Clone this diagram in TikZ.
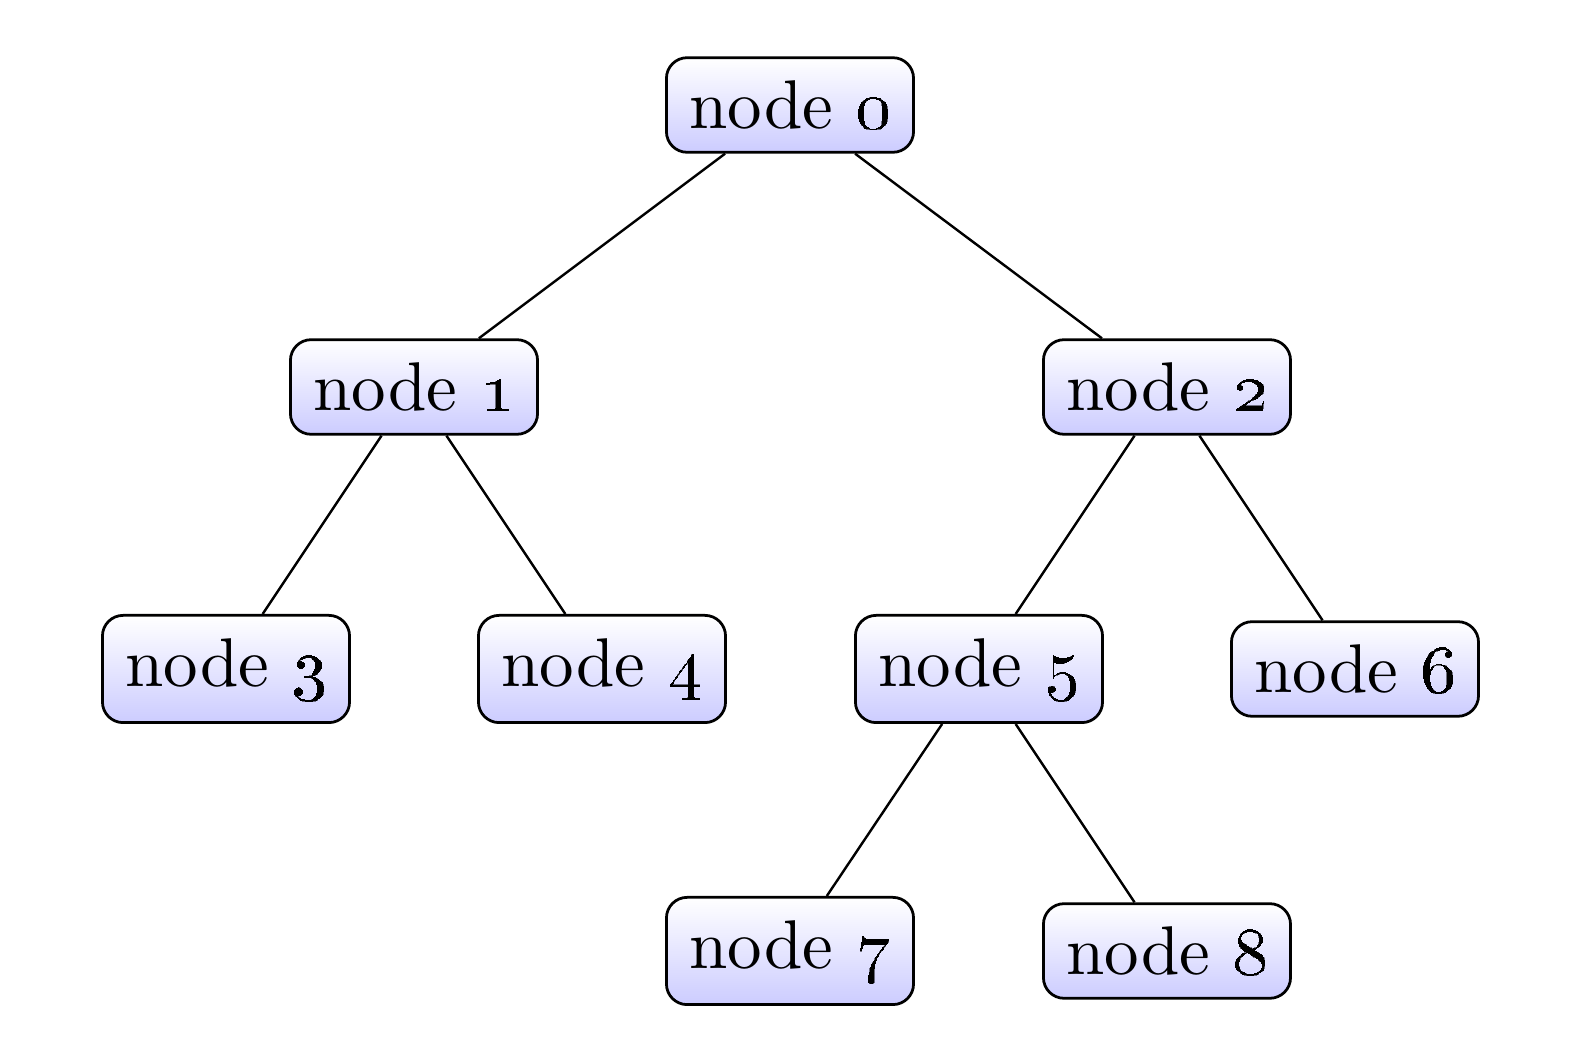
\documentclass[tikz,border=0pt]{standalone}
\begin{document}
\begin{tikzpicture}[x=0.145pt,y=-0.145pt,
  treenode/.style={draw=black,line width=0.4pt,rounded corners=3pt,
    top color=white,bottom color=blue!20,inner sep=0.3333em,font=\fontsize{10}{12}\selectfont},
  edge/.style={draw=black,line width=0.35pt}]
\useasboundingbox (0,0) rectangle (1572,1058);
\node[treenode] (n0) at (790,105) {node \oldstylenums{0}};
\node[treenode] (n1) at (414,387) {node \oldstylenums{1}};
\node[treenode] (n2) at (1167,387) {node \oldstylenums{2}};
\node[treenode] (n3) at (226,669) {node \oldstylenums{3}};
\node[treenode] (n4) at (602,669) {node \oldstylenums{4}};
\node[treenode] (n5) at (979,669) {node \oldstylenums{5}};
\node[treenode] (n6) at (1355,669) {node \oldstylenums{6}};
\node[treenode] (n7) at (790,951) {node \oldstylenums{7}};
\node[treenode] (n8) at (1167,951) {node \oldstylenums{8}};
\draw[edge] (n0) -- (n1);
\draw[edge] (n0) -- (n2);
\draw[edge] (n1) -- (n3);
\draw[edge] (n1) -- (n4);
\draw[edge] (n2) -- (n5);
\draw[edge] (n2) -- (n6);
\draw[edge] (n5) -- (n7);
\draw[edge] (n5) -- (n8);
\end{tikzpicture}
\end{document}
